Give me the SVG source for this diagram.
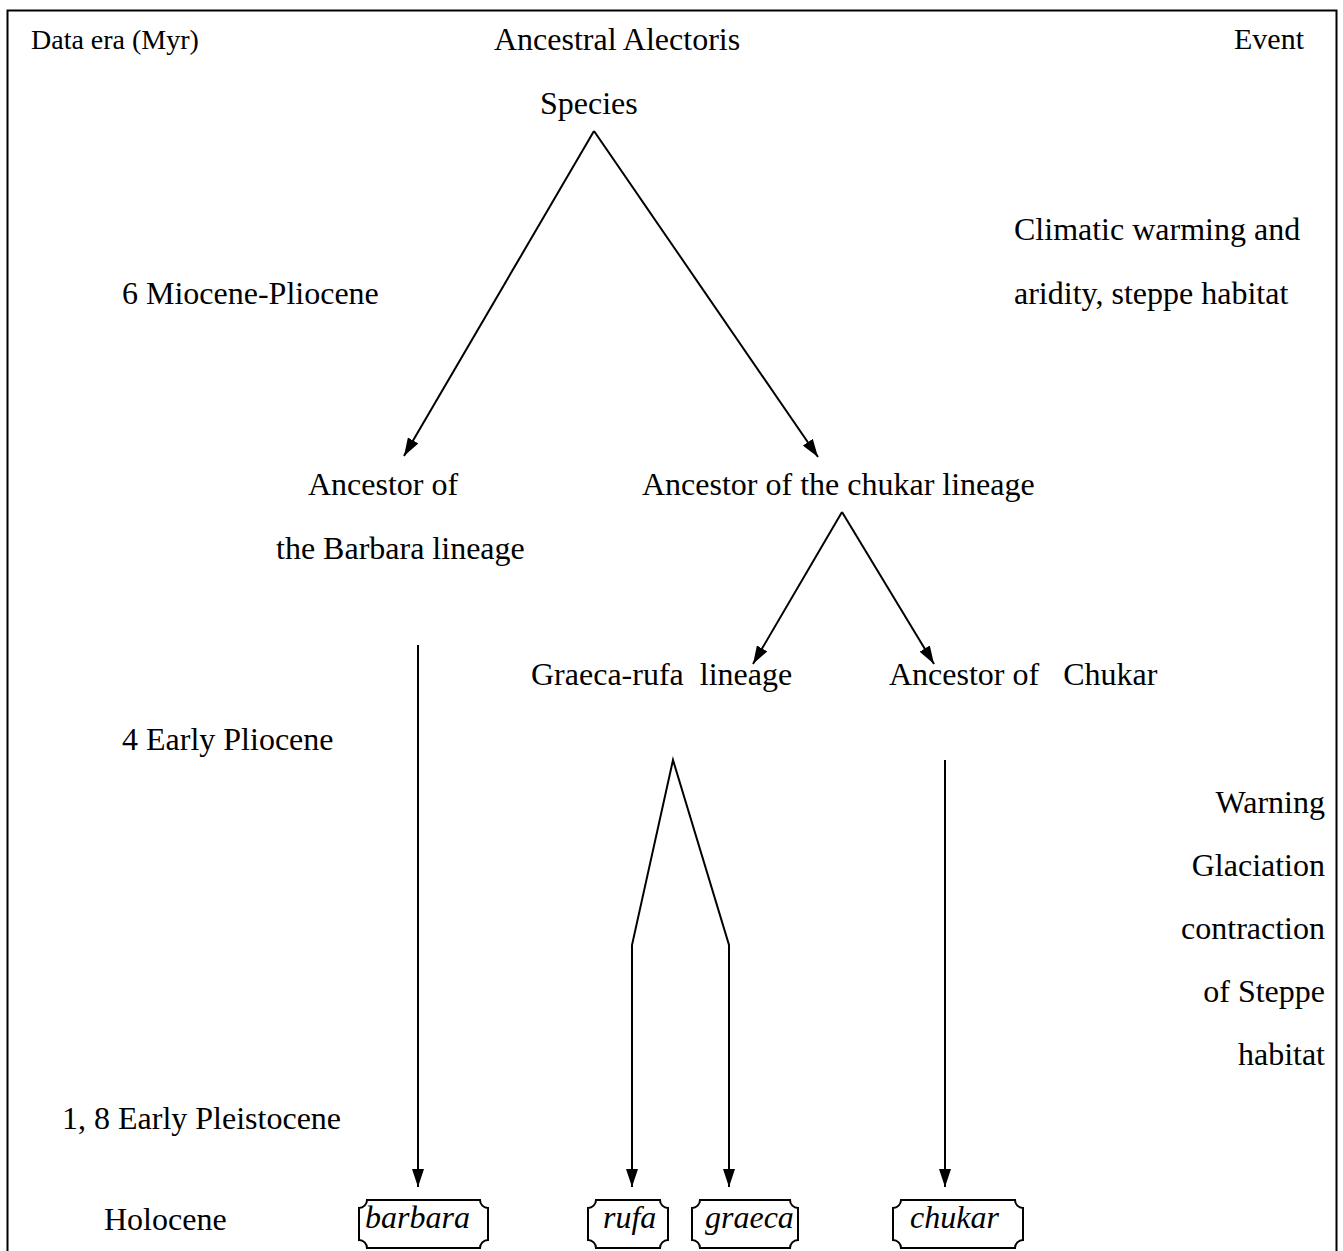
<svg xmlns="http://www.w3.org/2000/svg" width="1343" height="1251" viewBox="0 0 1343 1251">
<defs>
<style>
text{font-family:"Liberation Serif","Times New Roman",serif;font-size:32px;fill:#000}
.it{font-style:italic}
.e{text-anchor:end}
.ln{fill:none;stroke:#000;stroke-width:2}
.bx{fill:#fff;stroke:#000;stroke-width:2}
</style>
<marker id="ah" viewBox="0 0 18 12" refX="18" refY="6" markerWidth="18" markerHeight="12" markerUnits="userSpaceOnUse" orient="auto">
<path d="M0,0 L18,6 L0,12 Z" fill="#000"/>
</marker>
</defs>
<rect x="0" y="0" width="1343" height="1251" fill="#fff"/>
<rect x="7.5" y="10.5" width="1329" height="1270" fill="none" stroke="#000" stroke-width="2"/>

<g id="labels">
<text x="31" y="49" style="font-size:28px">Data era (Myr)</text>
<text x="1304" y="49" class="e" style="font-size:30px">Event</text>
<text x="122" y="304">6 Miocene-Pliocene</text>
<text x="1014" y="240">Climatic warming and</text>
<text x="1014" y="304">aridity, steppe habitat</text>
<text x="122" y="750">4 Early Pliocene</text>
<text x="1325" y="813" class="e">Warning</text>
<text x="1325" y="876" class="e">Glaciation</text>
<text x="1325" y="939" class="e">contraction</text>
<text x="1325" y="1002" class="e">of Steppe</text>
<text x="1325" y="1065" class="e">habitat</text>
<text x="62" y="1129">1, 8 Early Pleistocene</text>
<text x="104" y="1230">Holocene</text>
</g>

<g id="n-root">
<text x="494" y="50">Ancestral Alectoris</text>
<text x="540" y="114">Species</text>
</g>
<g id="n-barbara-anc">
<text x="308" y="495">Ancestor of</text>
<text x="276" y="559">the Barbara lineage</text>
</g>
<g id="n-chukar-anc">
<text x="642" y="495">Ancestor of the chukar lineage</text>
</g>
<g id="n-graeca-rufa">
<text x="531" y="685" xml:space="preserve">Graeca-rufa  lineage</text>
</g>
<g id="n-chukar-anc2">
<text x="889" y="685" xml:space="preserve">Ancestor of   Chukar</text>
</g>

<g id="n-barbara">
<path class="bx" d="M367,1200 H480 A8,8 0 0 0 488,1208 V1240 A8,8 0 0 0 480,1248 H367 A8,8 0 0 0 359,1240 V1208 A8,8 0 0 0 367,1200 Z"/>
<text x="365" y="1228" class="it">barbara</text>
</g>
<g id="n-rufa">
<path class="bx" d="M596,1200 H660 A8,8 0 0 0 668,1208 V1240 A8,8 0 0 0 660,1248 H596 A8,8 0 0 0 588,1240 V1208 A8,8 0 0 0 596,1200 Z"/>
<text x="603" y="1228" class="it">rufa</text>
</g>
<g id="n-graeca">
<path class="bx" d="M700,1200 H790 A8,8 0 0 0 798,1208 V1240 A8,8 0 0 0 790,1248 H700 A8,8 0 0 0 692,1240 V1208 A8,8 0 0 0 700,1200 Z"/>
<text x="705" y="1228" class="it">graeca</text>
</g>
<g id="n-chukar">
<path class="bx" d="M901,1200 H1015 A8,8 0 0 0 1023,1208 V1240 A8,8 0 0 0 1015,1248 H901 A8,8 0 0 0 893,1240 V1208 A8,8 0 0 0 901,1200 Z"/>
<text x="910" y="1228" class="it">chukar</text>
</g>

<g id="connectors">
<line class="ln" x1="594" y1="131" x2="404" y2="456" marker-end="url(#ah)"/>
<line class="ln" x1="594" y1="131" x2="818" y2="457" marker-end="url(#ah)"/>
<line class="ln" x1="842" y1="512" x2="753" y2="664" marker-end="url(#ah)"/>
<line class="ln" x1="842" y1="512" x2="934" y2="664" marker-end="url(#ah)"/>
<line class="ln" x1="418" y1="645" x2="418" y2="1187" marker-end="url(#ah)"/>
<polyline class="ln" points="632,1170 632,945 673,760 729,945 729,1170"/>
<line class="ln" x1="632" y1="945" x2="632" y2="1187" marker-end="url(#ah)"/>
<line class="ln" x1="729" y1="945" x2="729" y2="1187" marker-end="url(#ah)"/>
<line class="ln" x1="945" y1="760" x2="945" y2="1187" marker-end="url(#ah)"/>
</g>
</svg>
